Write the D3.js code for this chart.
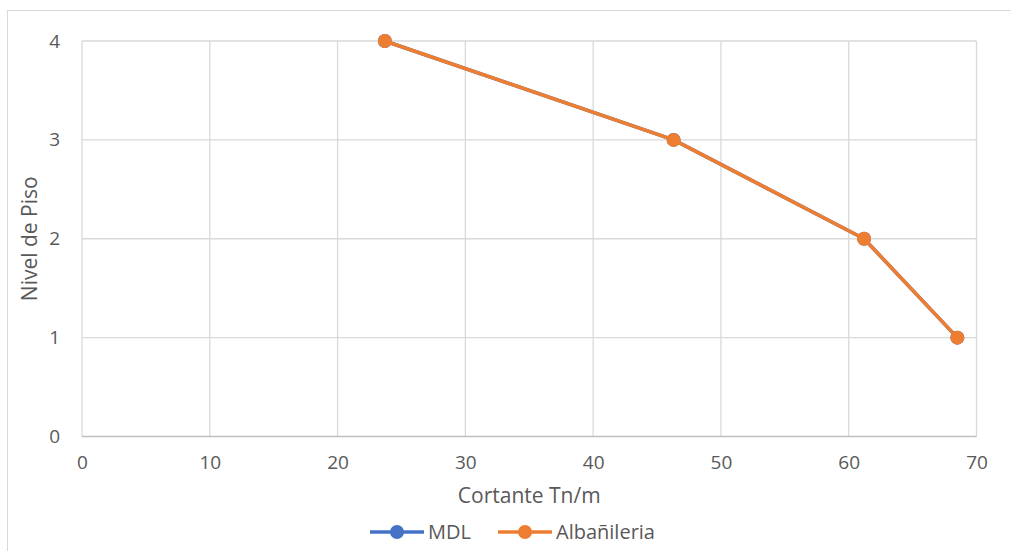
<!DOCTYPE html>
<html>
<head>
<meta charset="utf-8">
<script src="https://cdn.jsdelivr.net/npm/d3@7"></script>
<style>
  body { margin: 0; background: #fff; }
  text { font-family: "Open Sans", "Noto Sans", sans-serif; fill: #595959; }
</style>
</head>
<body>
<div class="chart"></div>
<script>
const width = 1011;
const height = 551;

// values
const cortante = [68.5, 61.2, 46.3, 23.7];
const nivel = [1, 2, 3, 4];
const seriesNames = ["MDL", "Albañileria"];
const seriesColors = ["#4472C4", "#ED7D31"];
const xTicks = [0, 10, 20, 30, 40, 50, 60, 70];
const yTicks = [0, 1, 2, 3, 4];

const plotLeft = 82, plotRight = 976.5, plotTop = 41, plotBottom = 436.5;

let svg = d3.select(".chart").append("svg")
    .attr("width", width)
    .attr("height", height);

// outer chart frame
svg.append("rect")
    .attr("x", 7.5).attr("y", 10.5)
    .attr("width", 1100).attr("height", 600)
    .attr("fill", "none")
    .attr("stroke", "#d9d9d9")
    .attr("stroke-width", 1);

let xScale = d3.scaleLinear().domain([0, 70]).range([plotLeft, plotRight]);
let yScale = d3.scaleLinear().domain([0, 4]).range([plotBottom, plotTop]);

// gridlines
svg.append("g").selectAll("line")
    .data(xTicks).enter().append("line")
    .attr("x1", d => xScale(d)).attr("x2", d => xScale(d))
    .attr("y1", plotTop).attr("y2", plotBottom)
    .attr("stroke", "#d9d9d9").attr("stroke-width", 1.3);
svg.append("g").selectAll("line")
    .data(yTicks).enter().append("line")
    .attr("x1", plotLeft).attr("x2", plotRight)
    .attr("y1", d => yScale(d)).attr("y2", d => yScale(d))
    .attr("stroke", d => d === 0 ? "#bfbfbf" : "#d9d9d9")
    .attr("stroke-width", 1.3);

// axes (labels only)
let xAxis = d3.axisBottom(xScale).tickValues(xTicks).tickSize(0).tickPadding(19)
    .tickFormat(d3.format("d"));
svg.append("g")
    .attr("transform", "translate(0," + plotBottom + ")")
    .call(xAxis)
    .call(g => g.select(".domain").remove())
    .selectAll("text").attr("font-size", 19).attr("fill", "#595959")
    .style("font-family", '"Open Sans", sans-serif');

let yAxis = d3.axisLeft(yScale).tickValues(yTicks).tickSize(0).tickPadding(22)
    .tickFormat(d3.format("d"));
svg.append("g")
    .attr("transform", "translate(" + plotLeft + ",0)")
    .call(yAxis)
    .call(g => g.select(".domain").remove())
    .selectAll("text").attr("font-size", 19).attr("fill", "#595959")
    .style("font-family", '"Open Sans", sans-serif');

// axis titles
svg.append("text")
    .text("Cortante Tn/m")
    .attr("text-anchor", "middle")
    .attr("x", xScale(35))
    .attr("y", 503)
    .attr("font-size", 21);
svg.append("text")
    .text("Nivel de Piso")
    .attr("text-anchor", "middle")
    .attr("transform", "translate(37," + yScale(2) + ") rotate(-90)")
    .attr("font-size", 21);

// series (both have the same values; orange drawn on top)
let points = nivel.map((n, i) => ({ x: cortante[i], y: n }));
let line = d3.line().x(d => xScale(d.x)).y(d => yScale(d.y));

seriesNames.forEach((name, s) => {
    let g = svg.append("g");
    g.append("path")
        .datum(points)
        .attr("d", line)
        .attr("fill", "none")
        .attr("stroke", seriesColors[s])
        .attr("stroke-width", 3.5)
        .attr("stroke-linejoin", "round");
    g.selectAll("circle")
        .data(points).enter().append("circle")
        .attr("cx", d => xScale(d.x))
        .attr("cy", d => yScale(d.y))
        .attr("r", 7)
        .attr("fill", seriesColors[s]);
});

// legend
let legendX = [370, 498];
seriesNames.forEach((name, s) => {
    let g = svg.append("g").attr("transform", "translate(" + legendX[s] + ",532)");
    g.append("line")
        .attr("x1", 0).attr("x2", 54)
        .attr("y1", 0).attr("y2", 0)
        .attr("stroke", seriesColors[s])
        .attr("stroke-width", 3.5);
    g.append("circle")
        .attr("cx", 27).attr("cy", 0).attr("r", 7)
        .attr("fill", seriesColors[s]);
    g.append("text")
        .text(name)
        .attr("x", 58)
        .attr("y", 7)
        .attr("font-size", 20);
});
</script>
</body>
</html>
